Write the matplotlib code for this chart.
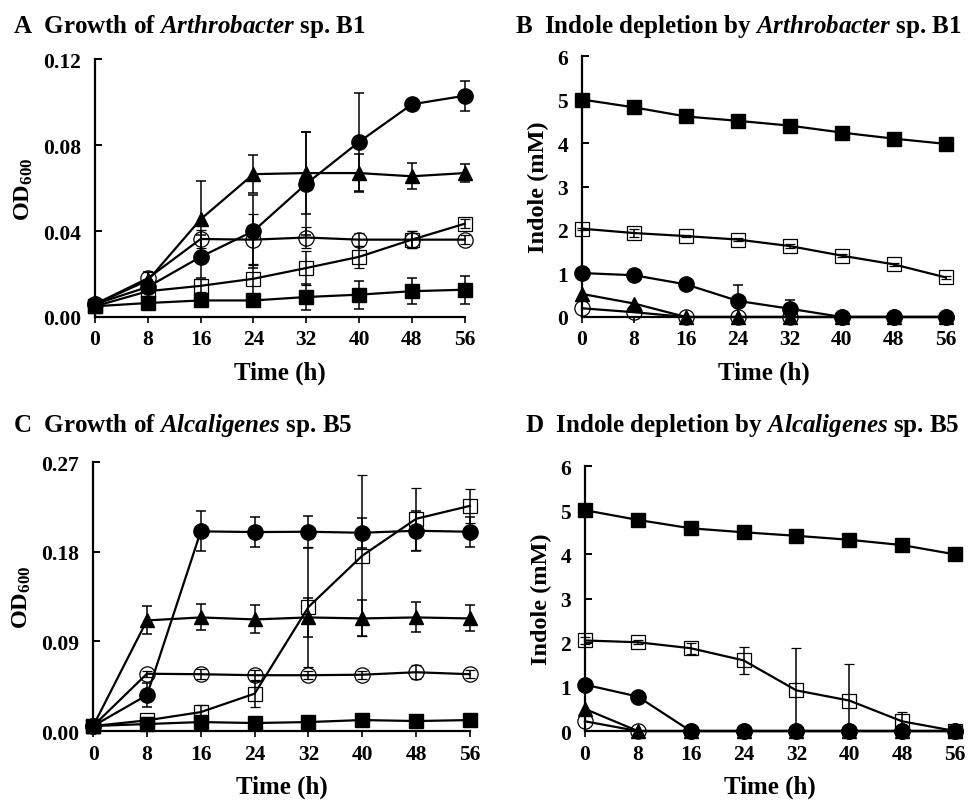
import matplotlib
matplotlib.use('Agg')
import matplotlib.pyplot as plt

plt.rcParams['font.family'] = 'Liberation Serif'
plt.rcParams['font.weight'] = 'bold'
plt.rcParams['axes.labelweight'] = 'bold'
plt.rcParams['mathtext.fontset'] = 'custom'
plt.rcParams['mathtext.rm'] = 'Liberation Serif:bold'
plt.rcParams['mathtext.it'] = 'Liberation Serif:italic:bold'
plt.rcParams['mathtext.bf'] = 'Liberation Serif:bold'

time_h = [0, 8, 16, 24, 32, 40, 48, 56]

# A: growth of Arthrobacter sp. B1 (OD600)
a_fcirc = [0.006, 0.014, 0.028, 0.040, 0.062, 0.0815, 0.099, 0.103]
a_fcirc_err = [0.001, 0.003, 0.010, 0.017, 0.024, 0.023, 0.002, 0.007]
a_tri = [0.006, 0.017, 0.0455, 0.0665, 0.067, 0.067, 0.0655, 0.067]
a_tri_err = [0.001, 0.004, 0.018, 0.009, 0.019, 0.009, 0.006, 0.004]
a_ocirc = [0.006, 0.018, 0.0363, 0.036, 0.037, 0.036, 0.036, 0.036]
a_ocirc_err = [0.001, 0.003, 0.004, 0.012, 0.005, 0.003, 0.004, 0.002]
a_osq = [0.005, 0.012, 0.0145, 0.0178, 0.0228, 0.028, 0.036, 0.0434]
a_osq_err = [0.001, 0.002, 0.003, 0.007, 0.008, 0.005, 0.004, 0.002]
a_fsq = [0.005, 0.0065, 0.0077, 0.0077, 0.0093, 0.0104, 0.012, 0.0127]
a_fsq_err = [0.001, 0.001, 0.002, 0.002, 0.006, 0.0065, 0.006, 0.0065]

# B: indole depletion by Arthrobacter sp. B1 (mM)
b_fsq = [5.0, 4.82, 4.61, 4.51, 4.40, 4.24, 4.10, 3.98]
b_fsq_err = [0.02, 0.02, 0.02, 0.02, 0.02, 0.02, 0.02, 0.02]
b_osq = [2.03, 1.93, 1.86, 1.78, 1.63, 1.41, 1.21, 0.91]
b_osq_err = [0.02, 0.10, 0.03, 0.04, 0.04, 0.03, 0.03, 0.04]
b_fcirc = [1.01, 0.96, 0.75, 0.37, 0.19, 0.0, 0.0, 0.0]
b_fcirc_err = [0.02, 0.02, 0.03, 0.36, 0.20, 0.0, 0.0, 0.0]
b_tri = [0.53, 0.31, 0.0, 0.0, 0.0, 0.0, 0.0, 0.0]
b_ocirc = [0.20, 0.11, 0.0, 0.0, 0.0, 0.0, 0.0, 0.0]

# C: growth of Alcaligenes sp. B5 (OD600)
c_fcirc = [0.005, 0.036, 0.2004, 0.1997, 0.200, 0.199, 0.201, 0.200]
c_fcirc_err = [0.001, 0.012, 0.020, 0.015, 0.016, 0.015, 0.020, 0.015]
c_tri = [0.005, 0.111, 0.114, 0.112, 0.114, 0.113, 0.114, 0.113]
c_tri_err = [0.001, 0.014, 0.013, 0.014, 0.020, 0.018, 0.015, 0.013]
c_ocirc = [0.005, 0.0575, 0.057, 0.056, 0.056, 0.0565, 0.059, 0.057]
c_ocirc_err = [0.001, 0.003, 0.005, 0.005, 0.004, 0.004, 0.007, 0.004]
c_osq = [0.005, 0.0107, 0.019, 0.0375, 0.1245, 0.176, 0.213, 0.226]
c_osq_err = [0.001, 0.003, 0.007, 0.013, 0.060, 0.081, 0.031, 0.017]
c_fsq = [0.005, 0.007, 0.009, 0.008, 0.009, 0.011, 0.010, 0.011]
c_fsq_err = [0.001, 0.002, 0.002, 0.002, 0.002, 0.003, 0.003, 0.003]

# D: indole depletion by Alcaligenes sp. B5 (mM)
d_fsq = [5.0, 4.78, 4.59, 4.50, 4.42, 4.33, 4.21, 4.00]
d_fsq_err = [0.02, 0.02, 0.02, 0.02, 0.02, 0.02, 0.02, 0.02]
d_osq = [2.05, 2.01, 1.875, 1.60, 0.92, 0.69, 0.22, 0.0]
d_osq_err = [0.07, 0.05, 0.12, 0.30, 0.95, 0.82, 0.22, 0.0]
d_fcirc = [1.05, 0.78, 0.0, 0.0, 0.0, 0.0, 0.0, 0.0]
d_tri = [0.50, 0.0, 0.0, 0.0, 0.0, 0.0, 0.0, 0.0]
d_ocirc = [0.22, 0.0, 0.0, 0.0, 0.0, 0.0, 0.0, 0.0]

styles = {
    'fcirc': dict(marker='o', ms=11, mfc='black'),
    'tri': dict(marker='^', ms=10.5, mfc='black'),
    'ocirc': dict(marker='o', ms=11, mfc='none', mew=0.9),
    'osq': dict(marker='s', ms=9.5, mfc='none', mew=0.9),
    'fsq': dict(marker='s', ms=10, mfc='black'),
}


def draw(ax, key, y, err=None):
    st = styles[key]
    ax.errorbar(time_h, y, yerr=err, color='black', lw=1.6, elinewidth=1.1,
                capsize=3.5, capthick=1.1, mec='black', clip_on=False,
                zorder=3, **st)


def style_axes(ax, ylim, yticks, ylabels, ylab):
    ax.set_xlim(0, 56)
    ax.set_ylim(*ylim)
    ax.set_xticks(time_h)
    ax.set_yticks(yticks)
    ax.set_yticklabels(ylabels)
    for s in ['top', 'right']:
        ax.spines[s].set_visible(False)
    for s in ['left', 'bottom']:
        ax.spines[s].set_linewidth(1.6)
    ax.tick_params(axis='y', direction='in', length=5, width=1.4,
                   labelsize=15.5, pad=10)
    ax.tick_params(axis='x', direction='out', length=4, width=1.2,
                   labelsize=15.5, pad=5)
    ax.set_xlabel('Time (h)', fontsize=18, labelpad=8)
    ax.set_ylabel(ylab, fontsize=17.5, labelpad=6)


fig = plt.figure(figsize=(9.7, 8.03), dpi=100)

od_label = r'OD$_{\mathrm{600}}$'

axA = fig.add_axes([0.098, 0.604, 0.381, 0.321])
draw(axA, 'fsq', a_fsq, a_fsq_err)
draw(axA, 'osq', a_osq, a_osq_err)
draw(axA, 'ocirc', a_ocirc, a_ocirc_err)
draw(axA, 'tri', a_tri, a_tri_err)
draw(axA, 'fcirc', a_fcirc, a_fcirc_err)
style_axes(axA, (0, 0.12), [0, 0.04, 0.08, 0.12],
           ['0.00', '0.04', '0.08', '0.12'], od_label)

axB = fig.add_axes([0.600, 0.604, 0.375, 0.325])
draw(axB, 'fsq', b_fsq, b_fsq_err)
draw(axB, 'osq', b_osq, b_osq_err)
draw(axB, 'ocirc', b_ocirc)
draw(axB, 'tri', b_tri)
draw(axB, 'fcirc', b_fcirc, b_fcirc_err)
style_axes(axB, (0, 6), range(7), [str(i) for i in range(7)], 'Indole (mM)')

axC = fig.add_axes([0.096, 0.0884, 0.3885, 0.335])
draw(axC, 'fsq', c_fsq, c_fsq_err)
draw(axC, 'osq', c_osq, c_osq_err)
draw(axC, 'ocirc', c_ocirc, c_ocirc_err)
draw(axC, 'tri', c_tri, c_tri_err)
draw(axC, 'fcirc', c_fcirc, c_fcirc_err)
style_axes(axC, (0, 0.27), [0, 0.09, 0.18, 0.27],
           ['0.00', '0.09', '0.18', '0.27'], od_label)

axD = fig.add_axes([0.603, 0.0884, 0.3815, 0.330])
draw(axD, 'fsq', d_fsq, d_fsq_err)
draw(axD, 'osq', d_osq, d_osq_err)
draw(axD, 'ocirc', d_ocirc)
draw(axD, 'tri', d_tri)
draw(axD, 'fcirc', d_fcirc)
style_axes(axD, (0, 6), range(7), [str(i) for i in range(7)], 'Indole (mM)')

tsize = 18
fig.text(0.013, 0.959, r'A  Growth of $\mathit{Arthrobacter}$ sp. B1', fontsize=tsize)
fig.text(0.531, 0.959, r'B  Indole depletion by $\mathit{Arthrobacter}$ sp. B1', fontsize=tsize)
fig.text(0.013, 0.462, r'C  Growth of $\mathit{Alcaligenes}$ sp. B5', fontsize=tsize)
fig.text(0.541, 0.462, r'D  Indole depletion by $\mathit{Alcaligenes}$ sp. B5', fontsize=tsize)

fig.savefig('out.png', dpi=100)
